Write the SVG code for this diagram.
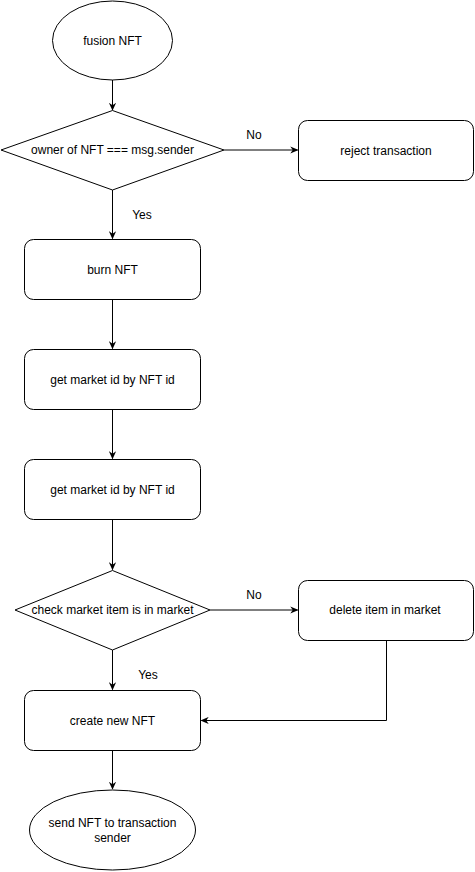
<svg xmlns="http://www.w3.org/2000/svg" width="475" height="872" viewBox="0 0 475 872">
<style>
.s{fill:#fff;stroke:#000;stroke-width:1}
.c{fill:none;stroke:#000;stroke-width:1}
text{font-family:"Liberation Sans",Arial,sans-serif;font-size:12px;fill:#000;text-anchor:middle}
</style>
<defs>
<marker id="a" viewBox="0 0 10 10" refX="9" refY="5" markerWidth="8" markerHeight="8" markerUnits="userSpaceOnUse" orient="auto">
<path d="M0,0.5 L10,5 L0,9.5 L3,5 Z" fill="#000"/>
</marker>
</defs>
<rect width="475" height="872" fill="#fff"/>
<g id="connectors">
<path class="c" d="M112.5,80 V110" marker-end="url(#a)"/>
<path class="c" d="M224,150 H297.5" marker-end="url(#a)"/>
<path class="c" d="M112.5,190 V238.5" marker-end="url(#a)"/>
<path class="c" d="M112.5,299.5 V348.5" marker-end="url(#a)"/>
<path class="c" d="M112.5,409.5 V458.5" marker-end="url(#a)"/>
<path class="c" d="M112.5,519.5 V569.5" marker-end="url(#a)"/>
<path class="c" d="M210,610 H297.5" marker-end="url(#a)"/>
<path class="c" d="M112.5,650 V689.5" marker-end="url(#a)"/>
<path class="c" d="M386.5,640.5 V720.5 H201.5" marker-end="url(#a)"/>
<path class="c" d="M112.5,750.5 V789" marker-end="url(#a)"/>
<text x="254" y="139">No</text>
<text x="142" y="219">Yes</text>
<text x="254" y="599">No</text>
<text x="148" y="679">Yes</text>
</g>
<g id="start">
<ellipse class="s" cx="112.5" cy="40.5" rx="60" ry="39.5"/>
<text x="112.5" y="44.5">fusion NFT</text>
</g>
<g id="owner-check">
<path class="s" d="M112.5,110.5 L224,150 L112.5,190 L1,150 Z"/>
<text x="112.5" y="154">owner of NFT === msg.sender</text>
</g>
<g id="reject">
<rect class="s" x="298.5" y="120.5" width="175" height="60" rx="9"/>
<text x="386" y="154.5">reject transaction</text>
</g>
<g id="burn">
<rect class="s" x="24.5" y="239.5" width="176" height="60" rx="9"/>
<text x="112.5" y="273.5">burn NFT</text>
</g>
<g id="get-market-1">
<rect class="s" x="24.5" y="349.5" width="176" height="60" rx="9"/>
<text x="112.5" y="383.5">get market id by NFT id</text>
</g>
<g id="get-market-2">
<rect class="s" x="24.5" y="459.5" width="176" height="60" rx="9"/>
<text x="112.5" y="493.5">get market id by NFT id</text>
</g>
<g id="market-check">
<path class="s" d="M112.5,570.5 L210,610 L112.5,650 L15,610 Z"/>
<text x="112.5" y="614">check market item is in market</text>
</g>
<g id="delete-item">
<rect class="s" x="298.5" y="580.5" width="175" height="60" rx="9"/>
<text x="385" y="614">delete item in market</text>
</g>
<g id="create-nft">
<rect class="s" x="24.5" y="690.5" width="176" height="60" rx="9"/>
<text x="112.5" y="724.5">create new NFT</text>
</g>
<g id="send-nft">
<ellipse class="s" cx="112.5" cy="830" rx="83" ry="40"/>
<text x="112.5" y="827">send NFT to transaction</text>
<text x="112.5" y="841.5">sender</text>
</g>
</svg>
